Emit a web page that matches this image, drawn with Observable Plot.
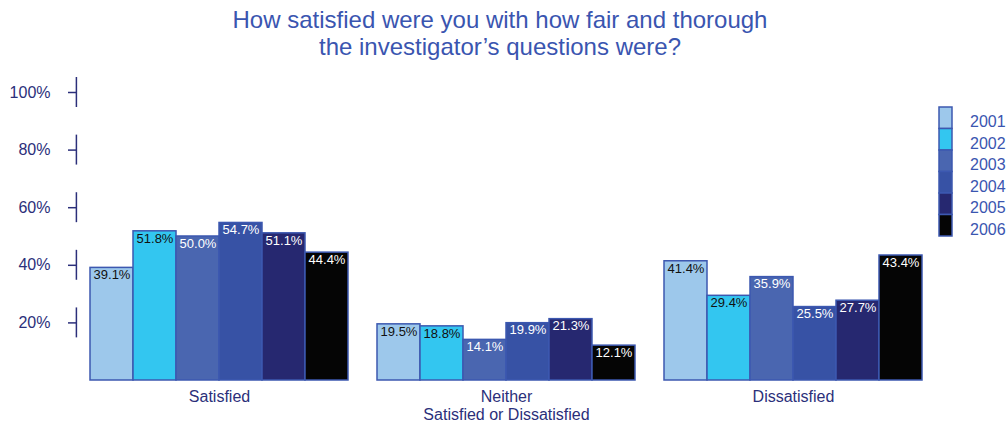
<!DOCTYPE html>
<html><head><meta charset="utf-8">
<script src="https://cdn.jsdelivr.net/npm/d3@7"></script>
<script src="https://cdn.jsdelivr.net/npm/@observablehq/plot@0.6"></script>
<style>
body{margin:0;background:#fff;font-family:"Liberation Sans",Arial,sans-serif;}
#wrap{position:relative;width:1008px;height:427px;overflow:hidden;}
#title{position:absolute;top:6px;left:0;width:1000px;text-align:center;color:#3a55b0;font-size:24px;line-height:27px;}
#chart{position:absolute;top:60px;left:0;}
#legend{position:absolute;left:938px;top:106px;}
</style></head><body>
<div id="wrap">
<div id="title">How satisfied were you with how fair and thorough<br>the investigator’s questions were?</div>
<div id="chart"></div>
<div id="legend"></div>
</div>
<script>
const categories = ["Satisfied", "Neither\nSatisfied or Dissatisfied", "Dissatisfied"];
const years = ["2001", "2002", "2003", "2004", "2005", "2006"];
const satisfied = [39.1, 51.8, 50.0, 54.7, 51.1, 44.4];
const neither = [19.5, 18.8, 14.1, 19.9, 21.3, 12.1];
const dissatisfied = [41.4, 29.4, 35.9, 25.5, 27.7, 43.4];
const yTicks = [20, 40, 60, 80, 100];
const yearColors = ["#9dc8eb", "#33c6f0", "#4a66b0", "#3752a5", "#262870", "#050505"];
const labelColors = ["#111111", "#111111", "#ffffff", "#ffffff", "#ffffff", "#ffffff"];

const series = [satisfied, neither, dissatisfied];
const data = [];
categories.forEach((c, ci) => years.forEach((y, yi) => data.push({category: c, year: y, value: series[ci][yi], yi})));

const navy = "#2b2f7a";
const edge = "#3c58b0";

const chart = Plot.plot({
  width: 1008,
  height: 367,
  marginTop: 32,
  marginBottom: 47,
  marginLeft: 89,
  marginRight: 84,
  style: {fontFamily: "Liberation Sans, Arial, sans-serif", background: "transparent"},
  fx: {domain: categories, paddingInner: 0.1, paddingOuter: 0, label: null},
  x: {domain: years, padding: 0, axis: null},
  y: {domain: [0, 100], axis: null},
  color: {domain: years, range: yearColors},
  marks: [
    Plot.barY(data, {fx: "category", x: "year", y: "value", fill: "year", stroke: edge, strokeWidth: 1.5, inset: 0}),
    Plot.text(data, {fx: "category", x: "year", y: "value", text: d => d.value.toFixed(1) + "%",
      fill: d => labelColors[d.yi], lineAnchor: "top", dy: 2, fontSize: 13}),
    Plot.axisY({ticks: yTicks, tickFormat: d => d + "%", tickSize: 8, dx: -14, tickPadding: 18,
      fontSize: 16, color: navy, stroke: navy, strokeWidth: 1.5, label: null}),
    Plot.ruleX(yTicks, {fx: () => categories[0], x: () => years[0], y1: d => d - 5.2, y2: d => d + 5.2,
      stroke: navy, strokeWidth: 1.5, dx: -35.6}),
    Plot.axisFx({anchor: "bottom", tickSize: 0, tickPadding: 8, fontSize: 16, lineHeight: 1.15, color: navy, label: null})
  ]
});
document.getElementById("chart").appendChild(chart);

// legend
const sw = 21.5;
const lg = d3.select("#legend").append("svg").attr("width", 70).attr("height", 140);
lg.selectAll("rect").data(years).join("rect")
  .attr("x", 1).attr("y", (d, i) => 1 + i * sw).attr("width", 13).attr("height", sw)
  .attr("fill", (d, i) => yearColors[i]).attr("stroke", edge).attr("stroke-width", 1.5);
lg.selectAll("text").data(years).join("text")
  .attr("x", 32).attr("y", (d, i) => 1 + i * sw + sw / 2 + 4).attr("dy", "0.35em")
  .attr("font-size", 16).attr("fill", "#3a55b0").attr("font-family", "Liberation Sans, Arial, sans-serif")
  .text(d => d);
</script>
</body></html>
